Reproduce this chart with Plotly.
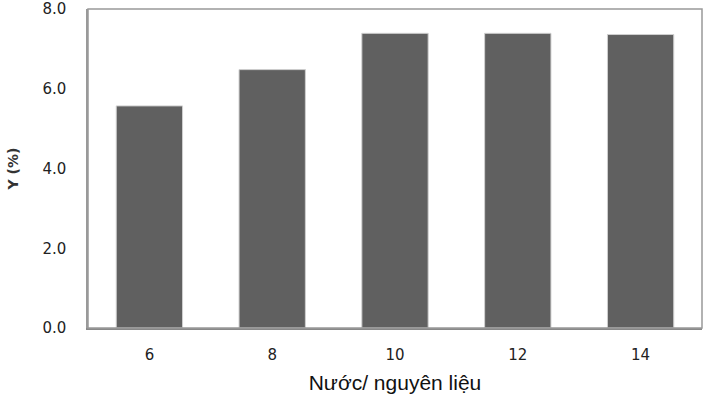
import plotly.graph_objects as go

# Water/material ratio vs yield
ratio = ["6", "8", "10", "12", "14"]
yield_pct = [5.57, 6.48, 7.39, 7.39, 7.36]
y_ticks = [0, 2, 4, 6, 8]
y_tick_labels = ["0.0", "2.0", "4.0", "6.0", "8.0"]

fig = go.Figure()

fig.add_trace(go.Bar(
    x=ratio,
    y=yield_pct,
    width=0.54,
    marker=dict(color='#606060', line=dict(color='#d0d0d0', width=1)),
))

fig.update_layout(
    width=710,
    height=400,
    margin=dict(l=88, r=8, t=9, b=72),
    paper_bgcolor='white',
    plot_bgcolor='white',
    showlegend=False,
    font=dict(family='Liberation Sans, Arial, sans-serif', color='#333333'),
    xaxis=dict(
        type='category',
        automargin=False,
        showgrid=False,
        ticks='',
        ticklabelstandoff=12,
        tickfont=dict(size=15, color='#222222', family='DejaVu Sans'),
        title=dict(text='Nước/ nguyên liệu', font=dict(size=21, color='#111111'), standoff=12),
        showline=True,
        linecolor='#888888',
        linewidth=2,
        mirror=False,
    ),
    yaxis=dict(
        range=[0, 8],
        automargin=False,
        tickvals=y_ticks,
        ticktext=y_tick_labels,
        ticklabeloverflow='allow',
        showgrid=False,
        zeroline=False,
        ticks='',
        ticklabelstandoff=17,
        tickfont=dict(size=15, color='#222222', family='DejaVu Sans'),
        title=dict(text='<b>Y (%)</b>', font=dict(size=14, color='#333333', family='DejaVu Sans'), standoff=20),
        showline=True,
        linecolor='#999999',
        linewidth=1.5,
    ),
    shapes=[dict(
        type='rect', xref='paper', yref='paper', x0=0, x1=1, y0=0, y1=1,
        line=dict(color='#999999', width=1.5), layer='above',
    )],
)

# the page body has a default 8px margin; drop it so the figure sits at 0,0
fig.write_html("out.html", config={'displayModeBar': False},
               post_script="document.body.style.margin = '0';")
